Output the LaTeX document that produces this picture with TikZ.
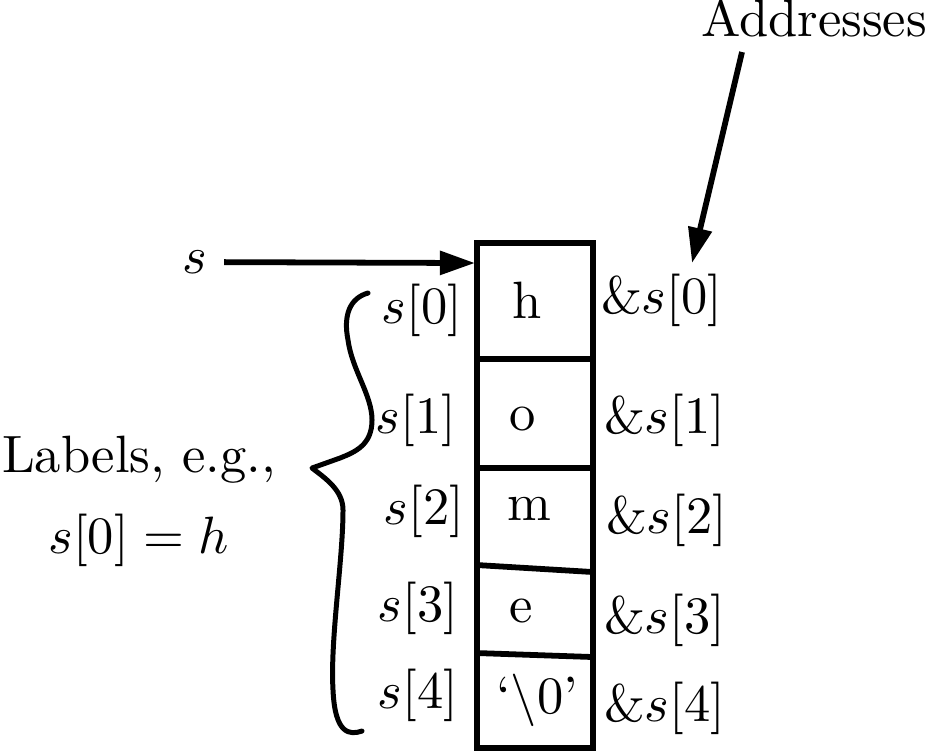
\documentclass[tikz,border=0pt]{standalone}
\usepackage{tikz}
\usetikzlibrary{arrows.meta}

\begin{document}
\begin{tikzpicture}[x=0.1903pt, y=-0.1903pt,
  txt/.style={inner sep=0pt},
  caja/.style={line width=1.1pt, line join=miter},
  flecha/.style={-{Triangle[length=6.7pt,width=4.4pt]}, line width=1.1pt},
  llave/.style={line width=0.95pt, line cap=round, line join=round}]
\useasboundingbox (0,0) rectangle (930,753);
% the array
\draw[caja] (477,243) rectangle (593,748);
\draw[caja] (477,359) -- (593,359);
\draw[caja] (477,468) -- (593,468);
\draw[caja] (477,565) -- (593,572);
\draw[caja] (477,653) -- (593,657);
\node[txt, anchor=base] (c0) at (527,318) {h};
\node[txt, anchor=base] (c1) at (523,430) {o};
\node[txt, anchor=base] (c2) at (529,520) {m};
\node[txt, anchor=base] (c3) at (521,622) {e};
\node[txt, anchor=base] (c4) at (537,713) {`$\backslash$0'};
% indices and addresses
\foreach \i/\x/\y in {0/463/310, 1/457/420, 2/465/511, 3/459/608, 4/459/695}
  \node[txt, anchor=east] (l\i) at (\x,\y) {$s[\i]$};
\foreach \i/\x/\y in {0/600/300, 1/603/420, 2/605/520, 3/603/620, 4/603/708}
  \node[txt, anchor=west] (a\i) at (\x,\y) {\&$s[\i]$};
\node[txt] (s) at (195,262) {$s$};
\node[txt, anchor=base] (addr) at (814,36) {Addresses};
\node[txt, align=center] (lab) at (139,501) {Labels, e.g.,\\[3.4pt] $s[0]=h$};
\coordinate (inicio) at (475,263);
\coordinate (dir) at (692,263);
\draw[flecha, shorten <=3pt] (s) -- (inicio);
\draw[flecha] ([shift={(-72,16)}]addr.base) -- (dir);
% hand drawn brace
\draw[llave] (368,293) .. controls (350,298) and (343,315) .. (348,340)
  .. controls (352,370) and (372,395) .. (372,420)
  .. controls (372,445) and (355,452) .. (340,458)
  -- (312,468)
  .. controls (325,478) and (343,490) .. (343,510)
  .. controls (343,560) and (330,640) .. (333,690)
  .. controls (335,735) and (350,735) .. (362,731);
\end{tikzpicture}
\end{document}
